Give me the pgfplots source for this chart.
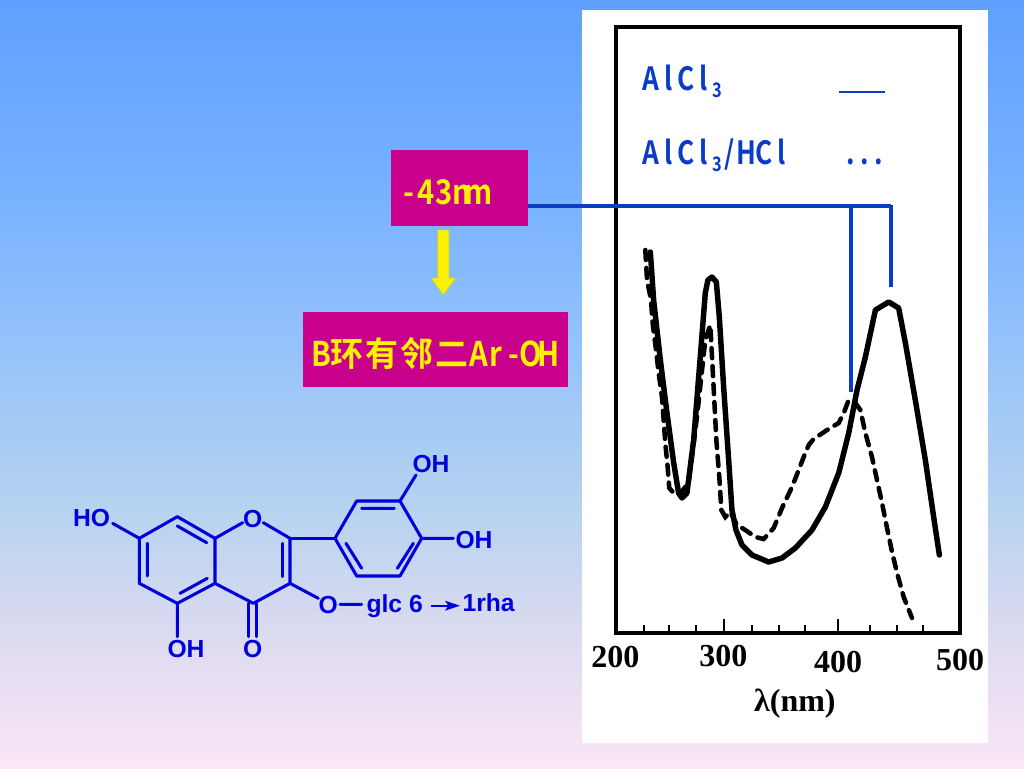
\documentclass[border=0pt]{standalone}
\usepackage{pgfplots}
\pgfplotsset{compat=1.18}
\usepackage{fontspec}
\setmainfont{Liberation Serif}
\setsansfont{Liberation Sans}
\newfontfamily\scanfont{Liberation Serif Bold}
\newfontfamily\cjk[FakeStretch=0.97]{Noto Sans CJK SC Bold}
\newfontfamily\latinmono[FakeStretch=0.82]{Noto Sans CJK SC Bold}
\newfontfamily\boxlatin[FakeStretch=0.86]{Noto Sans CJK SC Bold}
\definecolor{c0}{RGB}{250,230,247}
\definecolor{c1}{RGB}{225,220,240}
\definecolor{c2}{RGB}{180,210,240}
\definecolor{c3}{RGB}{150,195,250}
\definecolor{c4}{RGB}{120,178,255}
\definecolor{c5}{RGB}{95,160,255}
\definecolor{boxm}{RGB}{200,0,140}
\definecolor{lineb}{RGB}{10,60,200}
\definecolor{chemb}{RGB}{0,0,220}
\pgfdeclareverticalshading{slidebg}{100bp}{color(0bp)=(c0);color(25bp)=(c0);color(32.6bp)=(c1);color(42.4bp)=(c2);color(52.2bp)=(c3);color(62bp)=(c4);color(75bp)=(c5);color(100bp)=(c5)}
\newcommand\mc[1]{\makebox[13.125pt][c]{#1}}
\newcommand\cc[1]{\makebox[26.25pt][c]{#1}}
\pgfplotstableread{
x y
235.4 3.81
238.3 3.33
244.2 2.73
250.0 2.20
255.9 1.70
260.2 1.40
263.2 1.35
267.5 1.40
273.4 1.93
279.2 2.76
283.6 3.40
285.9 3.53
289.5 3.56
293.3 3.51
295.9 3.16
299.7 2.46
304.1 1.73
307.0 1.23
310.5 1.03
315.8 0.88
324.6 0.78
339.2 0.71
350.9 0.75
362.6 0.85
377.2 1.03
388.9 1.26
400.6 1.60
409.4 2.00
416.7 2.43
424.0 2.76
432.8 3.23
444.5 3.31
453.2 3.25
459.1 2.90
467.8 2.33
476.6 1.73
483.9 1.16
488.9 0.78
}\alcl
\pgfplotstableread{
x y
231.0 3.83
232.5 3.53
236.0 3.33
237.4 3.10
240.4 2.83
242.7 2.60
245.6 2.36
247.1 2.13
248.5 1.90
250.6 1.66
252.0 1.45
255.9 1.40
260.2 1.38
269.0 1.50
276.3 2.16
283.6 2.93
288.0 3.08
289.5 2.76
291.5 2.33
293.3 1.93
295.9 1.56
297.7 1.23
301.2 1.16
305.6 1.21
311.4 1.08
318.7 1.03
327.5 0.96
334.8 0.94
343.6 1.05
350.9 1.25
359.7 1.46
369.9 1.76
374.3 1.88
378.7 1.94
390.4 2.03
400.6 2.10
405.0 2.20
409.4 2.33
415.2 2.30
419.6 2.23
424.0 2.00
429.8 1.76
434.2 1.53
438.6 1.30
443.0 1.05
447.4 0.81
451.8 0.60
457.6 0.36
464.9 0.15
}\alclhcl
\begin{document}
\begin{tikzpicture}
% slide background and scanned panel, 1px = 0.75pt, origin at top left
\shade[shading=slidebg] (0,0) rectangle (768pt,-576pt);
\fill[white] (436.5pt,-7.5pt) rectangle (741pt,-557.25pt);
\begin{axis}[
  at={(462pt,-474.75pt)},anchor=south west,
  scale only axis,width=258pt,height=454.5pt,
  xmin=205.3,xmax=507,ymin=0,ymax=6.06,
  axis line style={black,line width=2.4pt},
  xtick={300,400},
  minor xtick={229.6,251.8,275.4,324.6,348.2,371.1,428,451.8,474.6},
  xticklabels={},
  ytick=\empty,
  xtick pos=bottom,tick align=inside,
  major tick length=10.5pt,minor tick length=6pt,
  tick style={black,line width=1.3pt},
  xlabel={\fontsize{24pt}{26pt}\scanfont λ(nm)},
  xlabel style={at={(axis description cs:0.52,-0.129)},anchor=base,inner sep=0pt},
]
\addplot[black,line width=3.4pt,line cap=round,dash pattern=on 7.5pt off 6pt] table[x=x,y=y] {\alclhcl};
\addplot[black,line width=4.1pt,line cap=round,line join=round] table[x=x,y=y] {\alcl};
\end{axis}
% tick numbers of the scan (unevenly placed, as in the reference)
\begin{scope}[font=\fontsize{24pt}{26pt}\scanfont,inner sep=0pt]
\node at (461.5pt,-493pt) {200};
\node at (542.5pt,-492pt) {300};
\node at (628.5pt,-496.5pt) {400};
\node at (720pt,-495pt) {500};
\end{scope}
% legend
\begin{scope}[lineb,every node/.style={anchor=base west,inner sep=0pt}]
\node at (481.5pt,-67.5pt) {\fontsize{24pt}{26pt}\latinmono\mc{A}\mc{l}\mc{C}\mc{l}\raisebox{-5.25pt}{\fontsize{15pt}{16pt}\selectfont 3}};
\node at (481.5pt,-123pt) {\fontsize{24pt}{26pt}\latinmono\mc{A}\mc{l}\mc{C}\mc{l}\raisebox{-5.25pt}{\fontsize{15pt}{16pt}\selectfont 3}\hspace{-1pt}\mc{/}\mc{H}\mc{C}\mc{l}};
\node at (632.5pt,-123pt) {\fontsize{24pt}{26pt}\latinmono\makebox[10.5pt][c]{.}\makebox[10.5pt][c]{.}\makebox[10.5pt][c]{.}};
\draw[line width=1.1pt] (629.25pt,-69pt) -- (663.75pt,-69pt);
\end{scope}
% connector lines
\draw[lineb,line width=2.7pt] (396pt,-154.5pt) -- (668.25pt,-154.5pt);
\draw[lineb,line width=2.7pt] (638.25pt,-154.5pt) -- (638.25pt,-294pt);
\draw[lineb,line width=2.7pt] (668.25pt,-153.5pt) -- (668.25pt,-215.25pt);
% boxes
\fill[boxm] (293.25pt,-112.5pt) rectangle (396pt,-169.25pt);
\fill[boxm] (227pt,-233.75pt) rectangle (426pt,-290pt);
\node[anchor=base west,inner sep=0pt,yellow] at (300pt,-153pt) {\fontsize{25.5pt}{27pt}\boxlatin\mc{-}\mc{4}\mc{3}\mc{n}\mc{m}};
\node[anchor=base west,inner sep=0pt,yellow] at (234pt,-274.5pt) {\fontsize{25.5pt}{27pt}\boxlatin\mc{B}\cjk\cc{环}\cc{有}\cc{邻}\cc{二}\boxlatin\mc{A}\mc{r}\mc{-}\mc{O}\mc{H}};
\fill[yellow,draw={rgb,255:red,190;green,210;blue,60},line width=0.5pt]
  (328.3pt,-172.5pt) -- (336.7pt,-172.5pt) -- (336.7pt,-208.5pt) -- (341.8pt,-208.5pt) -- (332.5pt,-221.25pt) -- (323.3pt,-208.5pt) -- (328.3pt,-208.5pt) -- cycle;
% molecule (coordinates in thirds of a pixel)
\begin{scope}[shift={(45pt,-330pt)},x=0.25pt,y=-0.25pt,chemb,line width=2.3pt,line cap=round,line join=round]
\draw (158,250)--(238,295);
\draw (238,295)--(352,230)--(465,295)--(465,430)--(352,490)--(238,430)--cycle;
\draw (262,310)--(262,408) (352,258)--(440,308) (360,460)--(442,415);
\draw (465,295)--(548,248) (610,248)--(690,295)--(690,430)--(580,490)--(465,430);
\draw (667,310)--(667,410);
\draw (565,490)--(565,590) (590,490)--(590,590);
\draw (690,295)--(825,295);
\draw (825,295)--(890,183)--(1020,183)--(1085,295)--(1020,408)--(890,408)--cycle;
\draw (905,205)--(1003,205) (858,310)--(905,385) (1060,310)--(1012,385);
\draw (1020,183)--(1068,105) (1085,295)--(1180,295);
\draw (690,430)--(775,475) (840,493)--(905,493) (352,490)--(352,590);
\draw[line width=1.5pt] (1115,497)--(1165,497);
\fill (1200,497)--(1155,482)--(1165,497)--(1155,512)--cycle;
\begin{scope}[font=\fontsize{18.5pt}{20pt}\sffamily\bfseries,inner sep=0pt]
\node at (95,235) {HO};
\node at (578,237) {O};
\node at (1113,72) {OH};
\node at (1242,300) {OH};
\node at (805,495) {O};
\node at (378,628) {OH};
\node at (578,628) {O};
\node[anchor=base west] at (915,517) {glc 6};
\node[anchor=base west] at (1203,513) {1rha};
\end{scope}
\end{scope}
\end{tikzpicture}
\end{document}
